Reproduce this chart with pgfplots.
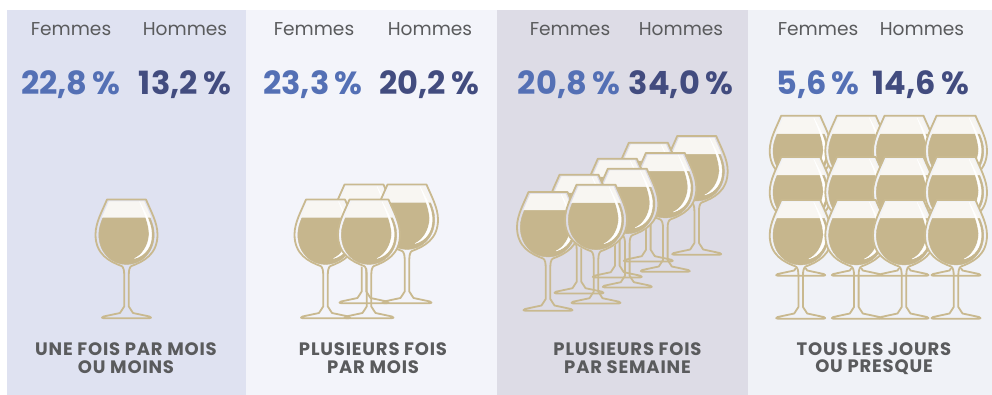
\documentclass[border=0pt]{standalone}
\usepackage{pgfplots}
\pgfplotsset{compat=1.18}
\usepackage{fontspec}
\setmainfont{Poppins}
\definecolor{txt}{HTML}{5A5B5D}
\definecolor{fem}{HTML}{5470B5}
\definecolor{hom}{HTML}{424C7F}
\definecolor{wine}{HTML}{C6B68D}
\definecolor{edge}{HTML}{C9B98F}
\definecolor{foam}{HTML}{F8F6F2}
\definecolor{pA}{HTML}{DFE2F1}
\definecolor{pB}{HTML}{F3F4FA}
\definecolor{pC}{HTML}{DDDCE6}
\definecolor{pD}{HTML}{F0F2F7}
\newcommand\declareglass[2]{%
\pgfdeclareplotmark{#1}{%
 \begin{scope}[x=1pt,y=1pt,line join=round,line cap=round]
 % bowl background
 \fill[#2] (-19.5,119) -- (19.5,119) .. controls (24,108) and (31,96) .. (31,84)
   .. controls (31,64) and (15,53) .. (0,50) .. controls (-15,53) and (-31,64) .. (-31,84)
   .. controls (-31,96) and (-24,108) .. (-19.5,119) -- cycle;
 % wine
 \fill[wine] (-23.5,101) -- (23.5,101) .. controls (26,95) and (27.7,90) .. (27.7,84)
   .. controls (27.7,66) and (15,54) .. (0,54) .. controls (-15,54) and (-27.7,66) .. (-27.7,84)
   .. controls (-27.7,90) and (-26,95) .. (-23.5,101) -- cycle;
 % foam
 \fill[foam] (-17.5,117) -- (17.5,117) -- (24.5,101) -- (-24.5,101) -- cycle;
 % highlight
 \fill[white] (13,117) .. controls (20,104) and (25.2,94) .. (25.2,84)
   .. controls (25.2,72) and (19,63) .. (8,60) .. controls (15,63) and (22,72) .. (22.6,84)
   .. controls (22.6,94) and (18,105) .. (13,117) -- cycle;
 % silhouette
 \draw[edge,line width=1.8pt] (-19.5,119) -- (19.5,119) .. controls (24,108) and (31,96) .. (31,84)
   .. controls (31,64) and (17,57) .. (5,52.5) .. controls (3,51.5) and (2.3,48) .. (2.3,44)
   -- (2.3,12) -- (6.5,5.5) -- (23,2) .. controls (25,1.2) and (25,0.3) .. (23,0.3)
   -- (-23,0.3) .. controls (-25,0.3) and (-25,1.2) .. (-23,2) -- (-6.5,5.5) -- (-2.3,12) -- (-2.3,44)
   .. controls (-2.3,48) and (-3,51.5) .. (-5,52.5) .. controls (-17,57) and (-31,64) .. (-31,84)
   .. controls (-31,96) and (-24,108) .. (-19.5,119) -- cycle;
 \end{scope}}}
\declareglass{glassA}{pA}
\declareglass{glassB}{pB}
\declareglass{glassC}{pC}
\declareglass{glassD}{pD}
\newcommand\hd[1]{\fontsize{18.6}{20}\selectfont #1}
\newcommand\val[1]{\fontsize{32}{34}\selectfont\bfseries #1}
\newcommand\lab[1]{\fontsize{18}{18}\selectfont\bfseries\addfontfeatures{LetterSpace=4.5}#1}
\begin{document}
\begin{tikzpicture}
\begin{axis}[x=1pt,y=1pt,y dir=reverse,xmin=0,xmax=992,ymin=0,ymax=395,
  enlargelimits=false,hide axis,clip=true,clip marker paths=false]
\addplot[fill=white,draw=none] coordinates {(0,0)(992,0)(992,395)(0,395)} -- cycle;
\addplot[fill=pA,draw=none] coordinates {(7,10)(246,10)(246,395)(7,395)} -- cycle;
\addplot[fill=pB,draw=none] coordinates {(246,10)(497,10)(497,395)(246,395)} -- cycle;
\addplot[fill=pC,draw=none] coordinates {(497,10)(748,10)(748,395)(497,395)} -- cycle;
\addplot[fill=pD,draw=none] coordinates {(748,10)(992,10)(992,395)(748,395)} -- cycle;
\addplot[only marks,mark=glassA] coordinates {(126.5,318.5)};
\addplot[only marks,mark=glassB] coordinates {(364,303.5)(407,303.5)(325.5,318.5)(369,318.5)};
\addplot[only marks,mark=glassC] coordinates {(696.7,255)(648.3,261.7)(665.3,272)(617.3,277.7)(627.3,287.7)(579,293.7)(548,311)(596,303.7)};
\addplot[only marks,mark=glassD] coordinates {(800.7,234.7)(856.3,234.7)(904,234.7)(956,234.7)
 (800.7,276)(856.3,276)(904,276)(956,276)
 (800.7,319)(856.3,319)(904,319)(956,319)};
\foreach \xa/\xb/\xc/\xd/\va/\vb in {71/185/71/185/{22,8}/{13,2},314/430/313/429/{23,3}/{20,2},570/681/569/681/{20,8}/{34,0},818/922/818/921/{5,6}/{14,6}}{
 \edef\tmp{\noexpand\node[text=txt,anchor=center] at (axis cs:\xa,29) {\noexpand\hd{Femmes}};
 \noexpand\node[text=txt,anchor=center] at (axis cs:\xb,29) {\noexpand\hd{Hommes}};
 \noexpand\node[text=fem,anchor=center] at (axis cs:\xc,85) {\noexpand\val{\va\,\%}};
 \noexpand\node[text=hom,anchor=center] at (axis cs:\xd,85) {\noexpand\val{\vb\,\%}};}
 \tmp
}
\node[text=txt] at (axis cs:126,349) {\lab{UNE FOIS PAR MOIS}};
\node[text=txt] at (axis cs:126,367) {\lab{OU MOINS}};
\node[text=txt] at (axis cs:373,349) {\lab{PLUSIEURS FOIS}};
\node[text=txt] at (axis cs:373,367) {\lab{PAR MOIS}};
\node[text=txt] at (axis cs:627.5,349) {\lab{PLUSIEURS FOIS}};
\node[text=txt] at (axis cs:627.5,367) {\lab{PAR SEMAINE}};
\node[text=txt] at (axis cs:874,349) {\lab{TOUS LES JOURS}};
\node[text=txt] at (axis cs:874,367) {\lab{OU PRESQUE}};
\end{axis}
\end{tikzpicture}
\end{document}
